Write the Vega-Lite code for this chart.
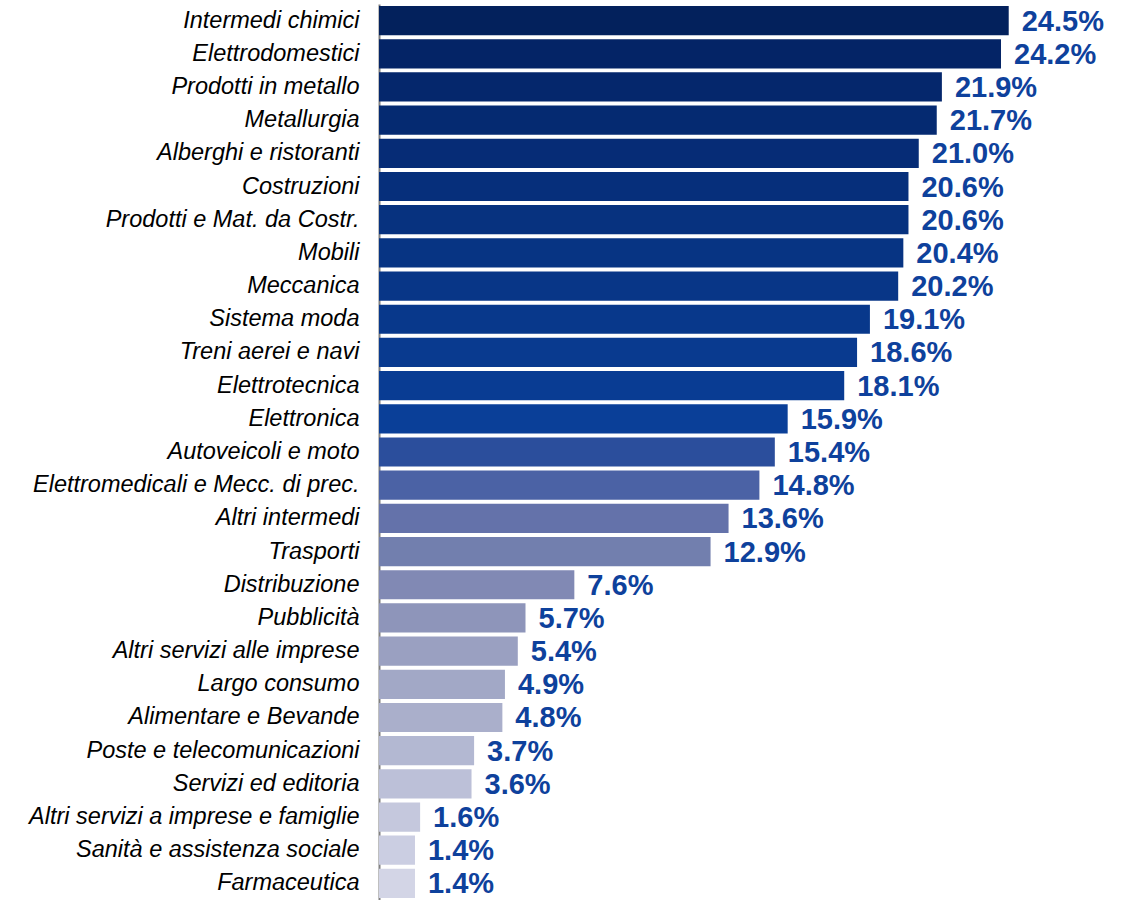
{
  "$schema": "https://vega.github.io/schema/vega-lite/v6.json",
  "width": 759,
  "height": 896,
  "autosize": {"type": "none"},
  "padding": {"left": 379, "top": 4, "right": 0, "bottom": 0},
  "background": "white",
  "config": {"view": {"stroke": null}},
  "data": {"values": [
    {"settore": "Intermedi chimici", "valore": 24.5},
    {"settore": "Elettrodomestici", "valore": 24.2},
    {"settore": "Prodotti in metallo", "valore": 21.9},
    {"settore": "Metallurgia", "valore": 21.7},
    {"settore": "Alberghi e ristoranti", "valore": 21.0},
    {"settore": "Costruzioni", "valore": 20.6},
    {"settore": "Prodotti e Mat. da Costr.", "valore": 20.6},
    {"settore": "Mobili", "valore": 20.4},
    {"settore": "Meccanica", "valore": 20.2},
    {"settore": "Sistema moda", "valore": 19.1},
    {"settore": "Treni aerei e navi", "valore": 18.6},
    {"settore": "Elettrotecnica", "valore": 18.1},
    {"settore": "Elettronica", "valore": 15.9},
    {"settore": "Autoveicoli e moto", "valore": 15.4},
    {"settore": "Elettromedicali e Mecc. di prec.", "valore": 14.8},
    {"settore": "Altri intermedi", "valore": 13.6},
    {"settore": "Trasporti", "valore": 12.9},
    {"settore": "Distribuzione", "valore": 7.6},
    {"settore": "Pubblicità", "valore": 5.7},
    {"settore": "Altri servizi alle imprese", "valore": 5.4},
    {"settore": "Largo consumo", "valore": 4.9},
    {"settore": "Alimentare e Bevande", "valore": 4.8},
    {"settore": "Poste e telecomunicazioni", "valore": 3.7},
    {"settore": "Servizi ed editoria", "valore": 3.6},
    {"settore": "Altri servizi a imprese e famiglie", "valore": 1.6},
    {"settore": "Sanità e assistenza sociale", "valore": 1.4},
    {"settore": "Farmaceutica", "valore": 1.4}
  ]},
  "transform": [
    {"calculate": "format(datum.valore, '.1f') + '%'", "as": "etichetta"}
  ],
  "encoding": {
    "y": {
      "field": "settore", "type": "nominal", "sort": null,
      "scale": {"paddingInner": 0.12, "paddingOuter": 0.06},
      "axis": {
        "title": null, "ticks": false, "labelPadding": 20,
        "labelFont": "Liberation Sans", "labelFontStyle": "italic",
        "labelFontSize": 23.5, "labelColor": "#000000", "labelLimit": 400,
        "domainColor": "#808080", "domainWidth": 2
      }
    },
    "x": {
      "field": "valore", "type": "quantitative",
      "scale": {"domain": [0, 29.53], "nice": false, "zero": true},
      "axis": null
    }
  },
  "layer": [
    {
      "mark": {"type": "bar"},
      "encoding": {
        "color": {
          "field": "settore", "type": "nominal", "legend": null,
          "scale": {
            "domain": ["Intermedi chimici", "Elettrodomestici", "Prodotti in metallo", "Metallurgia", "Alberghi e ristoranti", "Costruzioni", "Prodotti e Mat. da Costr.", "Mobili", "Meccanica", "Sistema moda", "Treni aerei e navi", "Elettrotecnica", "Elettronica", "Autoveicoli e moto", "Elettromedicali e Mecc. di prec.", "Altri intermedi", "Trasporti", "Distribuzione", "Pubblicità", "Altri servizi alle imprese", "Largo consumo", "Alimentare e Bevande", "Poste e telecomunicazioni", "Servizi ed editoria", "Altri servizi a imprese e famiglie", "Sanità e assistenza sociale", "Farmaceutica"],
            "range": ["#03215c", "#042466", "#05276c", "#052a71", "#062c76", "#062f7b", "#07327f", "#073483", "#083687", "#08388b", "#093a8f", "#093c93", "#0a3f98", "#2b4e9c", "#4b62a5", "#6472aa", "#727fae", "#8189b4", "#8e95ba", "#9aa0c1", "#a2a8c6", "#aaafcb", "#b3b8d2", "#bcc0d8", "#c5c8dd", "#cbcee2", "#d3d5e6"]
          }
        }
      }
    },
    {
      "mark": {"type": "text", "align": "left", "baseline": "middle", "dx": 13, "dy": 1,
               "font": "Liberation Sans", "fontWeight": "bold", "fontSize": 29, "color": "#0e419c"},
      "encoding": {"text": {"field": "etichetta"}}
    }
  ]
}
